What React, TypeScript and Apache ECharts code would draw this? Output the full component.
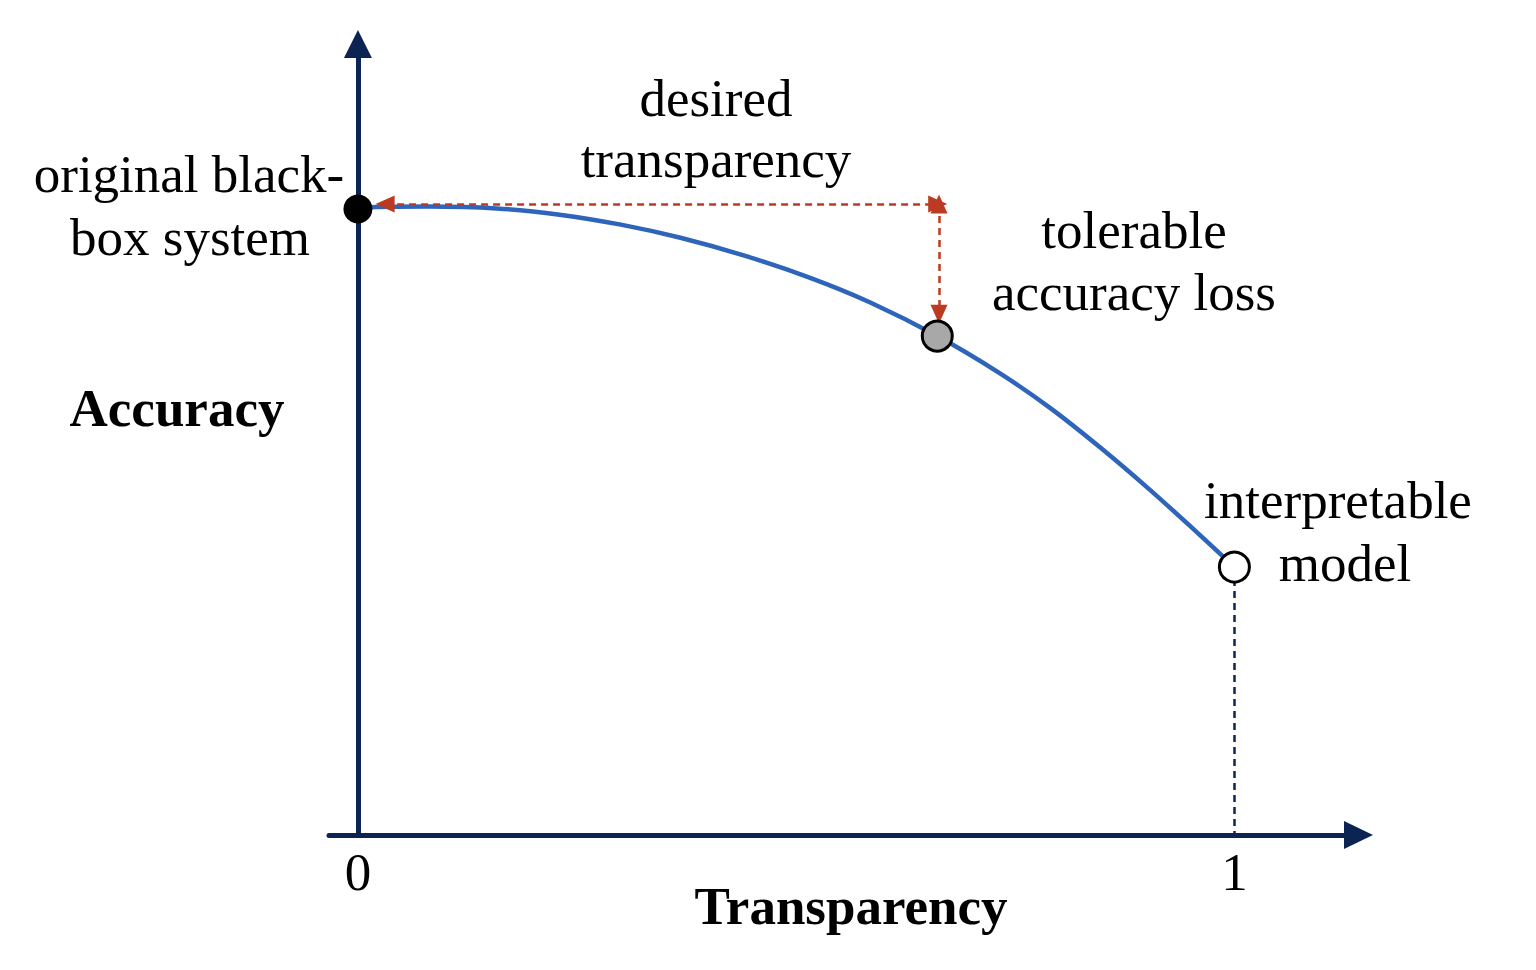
import React, { useEffect, useRef } from 'react';
import * as echarts from 'echarts';

// Trade-off curve (Transparency -> Accuracy)
const curveX = [0, 0.015, 0.08, 0.158, 0.23, 0.3, 0.368, 0.442, 0.516, 0.584, 0.661, 0.733, 0.79, 0.847, 0.904, 0.953, 1.0];
const curveY = [1.0, 1.003, 1.004, 1.001, 0.991, 0.975, 0.954, 0.925, 0.89, 0.851, 0.797, 0.737, 0.682, 0.619, 0.551, 0.489, 0.428];

// Highlighted points
const pointNames = ['original black-box system', 'desired trade-off', 'interpretable model'];
const pointX = [0, 0.661, 1];
const pointY = [1, 0.797, 0.428];
const pointFill = ['#000000', '#a8a8a8', '#ffffff'];

// Annotation arrows (data coordinates)
const transparencyArrow = [[0.031, 1.008], [0.6615, 1.008]];
const lossArrow = [[0.663, 1.008], [0.663, 0.832]];
const dropLine = [[1, 0.428], [1, 0]];

// Axis
const xTickValues = [0, 1];
const xMin = -0.033;
const xMax = 1.1416;
const yMin = 0;
const yMax = 1.2636;

const NAVY = '#0c2451';
const RED = '#bd3a22';
const BLUE = '#2e65bb';
const FONT = '"Liberation Serif", "Times New Roman", serif';

export default function App() {
  const ref = useRef<HTMLDivElement>(null);
  useEffect(() => {
    if (!ref.current) return;
    const chart = echarts.init(ref.current, null, { renderer: 'svg' });
    const textItem = (text: string, x: number, y: number, bold = false) => ({
      type: 'text',
      silent: true,
      z: 100,
      style: {
        text,
        x,
        y,
        fill: '#000',
        fontSize: 53,
        fontFamily: FONT,
        fontWeight: bold ? 'bold' : 'normal',
        align: 'center',
        verticalAlign: 'middle',
      },
    });
    chart.setOption({
      animation: false,
      backgroundColor: '#ffffff',
      grid: {
        left: 329,
        right: 177.5,
        top: 44,
        bottom: 135,
        containLabel: false,
        outerBoundsMode: 'none',
      },
      xAxis: {
        type: 'value',
        min: xMin,
        max: xMax,
        splitLine: { show: false },
        axisTick: { show: false },
        axisLine: {
          show: true,
          onZero: true,
          lineStyle: { color: NAVY, width: 5 },
          symbol: ['none', 'triangle'],
          symbolSize: [28, 29],
        },
        axisLabel: {
          customValues: xTickValues,
          color: '#000',
          fontSize: 53,
          fontFamily: FONT,
          margin: 10,
        },
      },
      yAxis: {
        type: 'value',
        min: yMin,
        max: yMax,
        splitLine: { show: false },
        axisTick: { show: false },
        axisLabel: { show: false },
        axisLine: {
          show: true,
          onZero: true,
          lineStyle: { color: NAVY, width: 5 },
          symbol: ['none', 'triangle'],
          symbolSize: [28, 28],
        },
      },
      graphic: [
        textItem('desired', 716, 98),
        textItem('transparency', 716, 159),
        textItem('original black-', 189, 174),
        textItem('box system', 190, 237),
        textItem('tolerable', 1134, 230),
        textItem('accuracy loss', 1134, 292),
        textItem('interpretable', 1338, 500),
        textItem('model', 1345, 563),
        textItem('Accuracy', 177, 408, true),
        textItem('Transparency', 851, 906, true),
      ],
      series: [
        {
          type: 'line',
          name: 'drop line',
          data: [],
          silent: true,
          z: 1,
          markLine: {
            silent: true,
            symbol: ['none', 'none'],
            label: { show: false },
            lineStyle: { color: NAVY, width: 2.5, type: [7, 5] },
            data: [[{ coord: dropLine[0] }, { coord: dropLine[1] }]],
          },
        },
        {
          type: 'line',
          name: 'trade-off',
          data: curveX.map((x, i) => [x, curveY[i]]),
          smooth: 0.3,
          showSymbol: false,
          silent: true,
          z: 2,
          lineStyle: { color: BLUE, width: 4.5 },
        },
        {
          type: 'line',
          name: 'annotations',
          data: [],
          silent: true,
          z: 3,
          markLine: {
            silent: true,
            symbol: ['triangle', 'triangle'],
            symbolSize: [17, 19],
            label: { show: false },
            lineStyle: { color: RED, width: 2.5, type: [7, 5] },
            itemStyle: { color: RED },
            data: [
              [{ coord: transparencyArrow[0] }, { coord: transparencyArrow[1] }],
              [{ coord: lossArrow[0] }, { coord: lossArrow[1] }],
            ],
          },
        },
        {
          type: 'scatter',
          name: 'points',
          silent: true,
          z: 5,
          data: pointX.map((x, i) => ({
            name: pointNames[i],
            value: [x, pointY[i]],
            symbolSize: i === 0 ? 29 : 30,
            itemStyle: {
              color: pointFill[i],
              borderColor: '#000',
              borderWidth: i === 0 ? 0 : 3,
              opacity: 1,
            },
          })),
        },
      ],
    });
    return () => chart.dispose();
  }, []);
  return (
    <div
      ref={ref}
      style={{ position: 'fixed', left: 0, top: 0, width: 1536, height: 970, background: '#fff' }}
    />
  );
}
